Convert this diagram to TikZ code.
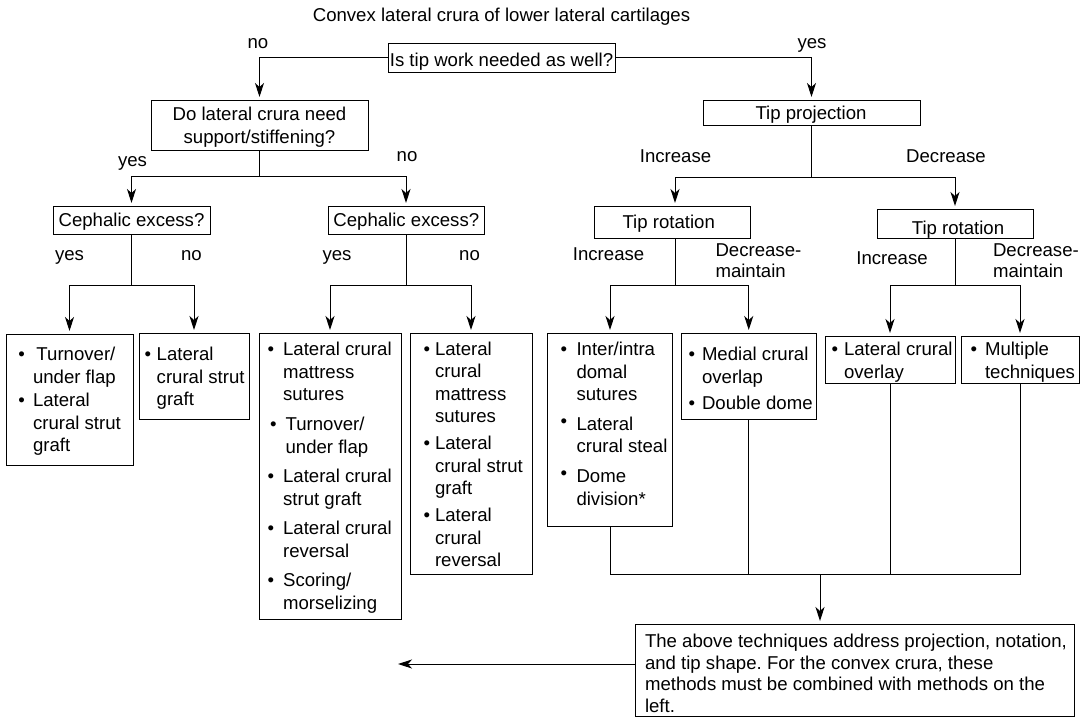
\documentclass[tikz,border=0pt]{standalone}
\usepackage{fontspec}
\setmainfont{Liberation Sans}
\usetikzlibrary{arrows.meta}
\newcommand\ff{\fontsize{18.6pt}{22.5pt}\selectfont\frenchspacing}
\newcommand\mkbox[5]{\node[bxs, minimum width={(#4)-(#2)}, minimum height={(#5)-(#3)}] (#1) at ({((#2)+(#4))/2},{((#3)+(#5))/2}) {};}
\begin{document}
\begin{tikzpicture}[x=1pt, y=-1pt, line width=1pt,
  bxs/.style={draw, line width=1pt, inner sep=0pt, outer sep=0pt},
  lbl/.style={inner sep=0pt, outer sep=0pt, font=\ff},
  arr/.style={-{Stealth[length=14pt,width=9pt,inset=4pt]}, shorten >=3pt}]
\useasboundingbox (0,0) rectangle (1085,718);

% boxes
\mkbox{q1}{388}{43}{615}{72}
\mkbox{q2}{151}{100}{368}{150}
\mkbox{ce1}{53}{206}{210}{234}
\mkbox{ce2}{328}{206}{484}{234}
\mkbox{tp}{703}{100}{920}{125}
\mkbox{tr1}{594}{206}{750}{238}
\mkbox{tr2}{877}{209}{1033}{238}
\mkbox{bA}{6}{334}{133}{465}
\mkbox{bB}{139}{333}{249}{419}
\mkbox{bC}{259}{333}{401}{619}
\mkbox{bD}{410}{333}{532}{574}
\mkbox{bE}{547.6}{333}{672.4}{526}
\mkbox{bF}{681.5}{333}{816}{419}
\mkbox{bG}{825}{336}{955}{383}
\mkbox{bH}{961}{336}{1079}{383}
\mkbox{fin}{635}{624}{1074}{716.5}

% title and box texts
\node[lbl, anchor=base] (title) at (501.5,21.5) {Convex lateral crura of lower lateral cartilages};
\node[lbl, anchor=base] (q1t) at (501.5,66) {Is tip work needed as well?};
\node[lbl, anchor=base] (q2t) at (259.5,120.7) {\fontsize{18.6pt}{23pt}\selectfont\begin{tabular}[t]{@{}c@{}}Do lateral crura need\\support/stiffening?\end{tabular}};
\node[lbl, anchor=base] (ce1t) at (131.5,226.7) {Cephalic excess?};
\node[lbl, anchor=base] (ce2t) at (406.3,226.7) {Cephalic excess?};
\node[lbl, anchor=base] (tpt) at (811,119.3) {Tip projection};
\node[lbl, anchor=base] (tr1t) at (668.7,228.3) {Tip rotation};
\node[lbl, anchor=base] (tr2t) at (958,234.3) {Tip rotation};

% bullet lists
\node[lbl, anchor=base west] (bAt) at (18.4,360.5) {\begin{tabular}[t]{@{}l@{\hspace{8.1pt}}l@{}}
\textbullet & \hspace{3.5pt}Turnover/\\ & under flap\\[1pt]
\textbullet & Lateral\\ & crural strut\\ & graft\end{tabular}};
\node[lbl, anchor=base west] (bBt) at (144.7,360.5) {\begin{tabular}[t]{@{}l@{\hspace{5.5pt}}l@{}}
\textbullet & Lateral\\ & crural strut\\ & graft\end{tabular}};
\node[lbl, anchor=base west] (bCt) at (267.7,355.5) {\begin{tabular}[t]{@{}l@{\hspace{6.4pt}}l@{}}
\textbullet & Lateral crural\\ & mattress\\ & sutures\\[7.5pt]
\hspace{2.5pt}\textbullet & \hspace{2.5pt}Turnover/\\ & \hspace{2.5pt}under flap\\[7pt]
\textbullet & Lateral crural\\ & strut graft\\[7pt]
\textbullet & Lateral crural\\ & reversal\\[7pt]
\textbullet & Scoring/\\ & morselizing\end{tabular}};
\node[lbl, anchor=base west] (bDt) at (423.7,355) {\begin{tabular}[t]{@{}l@{\hspace{4.8pt}}l@{}}
\textbullet & Lateral\\ & crural\\ & mattress\\ & sutures\\[4.5pt]
\textbullet & Lateral\\ & crural strut\\ & graft\\[4.5pt]
\textbullet & Lateral\\ & crural\\ & reversal\end{tabular}};
\node[lbl, anchor=base west] (bEt) at (560.7,355.5) {\begin{tabular}[t]{@{}l@{\hspace{9.3pt}}l@{}}
\textbullet & Inter/intra\\ & domal\\ & sutures\\[7pt]
\raisebox{3pt}{\textbullet} & Lateral\\ & crural steal\\[7.5pt]
\raisebox{3pt}{\textbullet} & Dome\\ & division*\end{tabular}};
\node[lbl, anchor=base west] (bFt) at (688.7,360.5) {\begin{tabular}[t]{@{}l@{\hspace{6.8pt}}l@{}}
\textbullet & Medial crural\\ & overlap\\[4pt]
\textbullet & Double dome\end{tabular}};
\node[lbl, anchor=base west] (bGt) at (831.7,355.5) {\begin{tabular}[t]{@{}l@{\hspace{5.8pt}}l@{}}
\textbullet & Lateral crural\\ & overlay\end{tabular}};
\node[lbl, anchor=base west] (bHt) at (970.7,355.5) {\begin{tabular}[t]{@{}l@{\hspace{7.8pt}}l@{}}
\textbullet & Multiple\\ & techniques\end{tabular}};
\node[lbl, anchor=base west] (fint) at (645,647.5) {\fontsize{18.6pt}{21.7pt}\selectfont\begin{tabular}[t]{@{}l@{}}
The above techniques address projection, notation,\\
and tip shape. For the convex crura, these\\
methods must be combined with methods on the\\
left.\end{tabular}};

% branch labels
\node[lbl, anchor=base] (l1) at (258,48.3) {no};
\node[lbl, anchor=base] (l2) at (812,48) {yes};
\node[lbl, anchor=base] (l3) at (132.5,166) {yes};
\node[lbl, anchor=base] (l4) at (407,161.7) {no};
\node[lbl, anchor=base] (l5) at (675.5,162.7) {Increase};
\node[lbl, anchor=base] (l6) at (946,162.7) {Decrease};
\node[lbl, anchor=base] (l7) at (69.5,260) {yes};
\node[lbl, anchor=base] (l8) at (191.5,260) {no};
\node[lbl, anchor=base] (l9) at (337,260) {yes};
\node[lbl, anchor=base] (l10) at (469.5,260) {no};
\node[lbl, anchor=base] (l11) at (608.6,260) {Increase};
\node[lbl, anchor=base] (l12) at (892,264) {Increase};
\node[lbl, anchor=base west] (l13) at (715.5,256) {\fontsize{18.6pt}{21.3pt}\selectfont\begin{tabular}[t]{@{}l@{}}Decrease-\\maintain\end{tabular}};
\node[lbl, anchor=base west] (l14) at (993,256) {\fontsize{18.6pt}{21.3pt}\selectfont\begin{tabular}[t]{@{}l@{}}Decrease-\\maintain\end{tabular}};

% connectors
\draw[arr] (q1.west) -| (q2.north);
\draw[arr] (q1.east) -| (tp.north);
\draw[arr] (q2.south) -- ++(0,26.5) -| (ce1.north);
\draw[arr] (q2.south) -- ++(0,26.5) -| (ce2.north);
\draw[arr] (tp.south) -- ++(0,52) -| ([xshift=3pt]tr1.north);
\draw[arr] (tp.south) -- ++(0,52) -| (tr2.north);
\draw[arr] (ce1.south) -- ++(0,51) -| (bA.north);
\draw[arr] (ce1.south) -- ++(0,51) -| (bB.north);
\draw[arr] (ce2.south) -- ++(0,51) -| (bC.north);
\draw[arr] (ce2.south) -- ++(0,51) -| (bD.north);
\draw[arr] ([xshift=3pt]tr1.south) -- ++(0,47) -| (bE.north);
\draw[arr] ([xshift=3pt]tr1.south) -- ++(0,47) -| (bF.north);
\draw[arr] (tr2.south) -- ++(0,47) -| (bG.north);
\draw[arr] (tr2.south) -- ++(0,47) -| (bH.north);

\coordinate (j) at (820,574);
\coordinate (la) at (398,664);
\draw (bE.south) |- (j);
\draw (bH.south) |- (j);
\draw (bF.south) -- (bF.south |- j);
\draw (bG.south) -- (bG.south |- j);
\draw[arr] (j) -- (j |- fin.north);
\draw[arr, shorten >=0pt] (la -| fin.west) -- (la);
\end{tikzpicture}
\end{document}
